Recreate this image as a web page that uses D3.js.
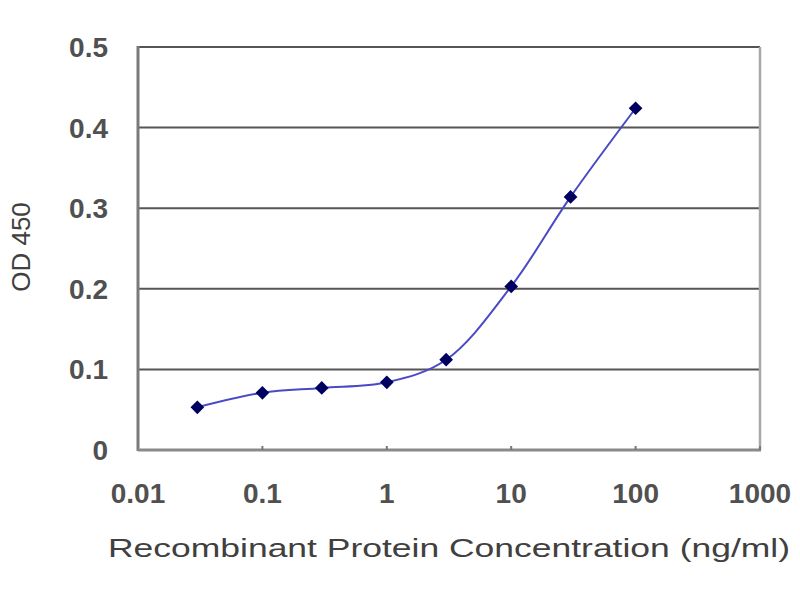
<!DOCTYPE html>
<html>
<head>
<script src="https://d3js.org/d3.v7.min.js"></script>
<style>
body { margin: 0; background: #fff; }
svg { display: block; }
text { font-family: "Liberation Sans", Arial, sans-serif; fill: #404040; }
</style>
</head>
<body>
<div id="plot"></div>
<script>
// concentration (ng/ml) and OD 450
var conc = [0.03, 0.1, 0.3, 1, 3, 10, 30, 100];
var od = [0.053, 0.071, 0.077, 0.084, 0.112, 0.203, 0.314, 0.424];
var xTicks = [0.01, 0.1, 1, 10, 100, 1000];
var xTickLabels = ["0.01", "0.1", "1", "10", "100", "1000"];
var yTicks = [0, 0.1, 0.2, 0.3, 0.4, 0.5];
var yTickLabels = ["0", "0.1", "0.2", "0.3", "0.4", "0.5"];

var width = 800, height = 600;
var plotLeft = 138, plotRight = 760, plotTop = 47, plotBottom = 450;

var svg = d3.select("#plot").append("svg")
  .attr("width", width).attr("height", height);

var x = d3.scaleLog().domain([0.01, 1000]).range([plotLeft, plotRight]);
var y = d3.scaleLinear().domain([0, 0.5]).range([plotBottom, plotTop]);

var points = conc.map(function (c, i) { return { x: c, y: od[i] }; });

// horizontal gridlines
svg.selectAll("line.grid").data(yTicks.filter(d => d > 0)).enter()
  .append("line")
  .attr("class", "grid")
  .attr("x1", plotLeft).attr("x2", plotRight)
  .attr("y1", d => y(d)).attr("y2", d => y(d))
  .style("stroke", "#555").style("stroke-width", 2);

// right border
svg.append("line")
  .attr("x1", plotRight).attr("x2", plotRight)
  .attr("y1", plotTop).attr("y2", plotBottom)
  .style("stroke", "#a8a8a8").style("stroke-width", 2.5);

// left and bottom axes
svg.append("line")
  .attr("x1", plotLeft).attr("x2", plotLeft)
  .attr("y1", plotTop - 1).attr("y2", plotBottom + 1)
  .style("stroke", "#7a7a7a").style("stroke-width", 3);
svg.append("line")
  .attr("x1", plotLeft).attr("x2", plotRight + 1)
  .attr("y1", plotBottom).attr("y2", plotBottom)
  .style("stroke", "#8a8a8a").style("stroke-width", 3);

// small decade ticks pointing up
svg.selectAll("line.xtick").data(xTicks.slice(1)).enter()
  .append("line")
  .attr("class", "xtick")
  .attr("x1", d => x(d)).attr("x2", d => x(d))
  .attr("y1", plotBottom).attr("y2", plotBottom - 4)
  .style("stroke", "#777").style("stroke-width", 2);

// tick labels
svg.selectAll("text.ylab").data(yTicks).enter()
  .append("text")
  .attr("class", "ylab")
  .attr("x", 108).attr("y", d => y(d))
  .attr("dy", "0.36em")
  .attr("text-anchor", "end")
  .style("font-size", "28px")
  .style("font-weight", "bold")
  .style("fill", "#505050")
  .text((d, i) => yTickLabels[i]);

svg.selectAll("text.xlab").data(xTicks).enter()
  .append("text")
  .attr("class", "xlab")
  .attr("x", d => x(d)).attr("y", 493)
  .attr("dy", "0.36em")
  .attr("text-anchor", "middle")
  .style("font-size", "28px")
  .style("font-weight", "bold")
  .style("fill", "#505050")
  .text((d, i) => xTickLabels[i]);

// axis titles
svg.append("text")
  .attr("x", 108).attr("y", 557)
  .attr("textLength", 682).attr("lengthAdjust", "spacingAndGlyphs")
  .style("font-size", "25px")
  .text("Recombinant Protein Concentration (ng/ml)");

svg.append("text")
  .attr("transform", "translate(30,247) rotate(-90)")
  .attr("text-anchor", "middle")
  .style("font-size", "26px")
  .text("OD 450");

// smoothed line
var line = d3.line()
  .x(d => x(d.x)).y(d => y(d.y))
  .curve(d3.curveCatmullRom.alpha(0.5));

svg.append("path")
  .datum(points)
  .attr("d", line)
  .style("fill", "none")
  .style("stroke", "#4a4ac4")
  .style("stroke-width", 2);

// diamond markers
svg.selectAll("path.marker").data(points).enter()
  .append("path")
  .attr("class", "marker")
  .attr("d", d3.symbol().type(d3.symbolDiamond2).size(120))
  .attr("transform", d => "translate(" + x(d.x) + "," + y(d.y) + ")")
  .style("fill", "#000060");
</script>
</body>
</html>
